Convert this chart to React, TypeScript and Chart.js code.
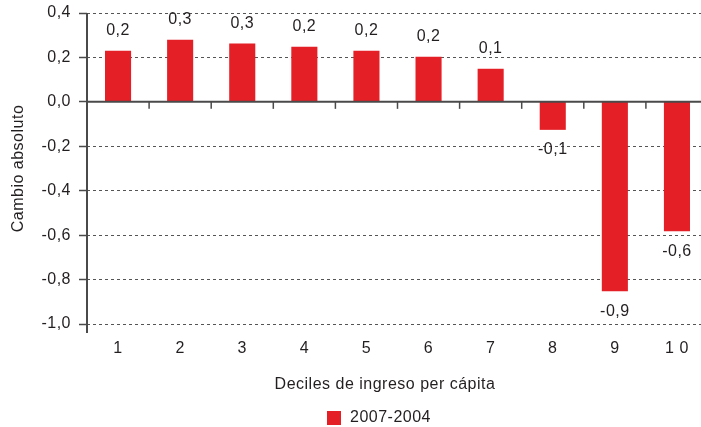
import React, { useEffect, useRef } from "react";
import { Chart, registerables } from "chart.js";

Chart.register(...registerables);

const categories = ["1", "2", "3", "4", "5", "6", "7", "8", "9", "1 0"];
const values = [0.23, 0.28, 0.263, 0.248, 0.23, 0.203, 0.149, -0.126, -0.853, -0.582];
const seriesLabel = "2007-2004";
const yMin = -1.0;
const yMax = 0.4;
const yStep = 0.2;
const yTitle = "Cambio absoluto";
const xTitle = "Deciles de ingreso per cápita";

const FONT = '"Liberation Sans", Arial, Helvetica, sans-serif';
const FS = 16;
const SPACING = "0.5px";
const RED = "#E41F26";
const INK = "#231F20";
const AXIS = "#4a4a4a";
const GRID = "#555555";

const fmt = (v: number) =>
  Math.abs(v) < 1e-9 ? "0,0" : v.toFixed(1).replace(".", ",");

const decor = {
  id: "decor",
  beforeUpdate(chart: any) {
    chart.ctx.letterSpacing = SPACING;
  },
  beforeDraw(chart: any) {
    chart.ctx.letterSpacing = SPACING;
  },
  afterDatasetsDraw(chart: any) {
    const { ctx, chartArea, scales } = chart;
    const x = scales.x;
    const y = scales.y;
    const y0 = y.getPixelForValue(0);
    ctx.save();
    ctx.setLineDash([]);
    ctx.strokeStyle = AXIS;
    // zero line
    ctx.lineWidth = 2;
    ctx.beginPath();
    ctx.moveTo(chartArea.left, y0);
    ctx.lineTo(chartArea.right, y0);
    ctx.stroke();
    // category boundary ticks
    ctx.lineWidth = 1.5;
    for (let i = 1; i < categories.length; i++) {
      const bx = (x.getPixelForValue(i - 1) + x.getPixelForValue(i)) / 2;
      ctx.beginPath();
      ctx.moveTo(bx, y0);
      ctx.lineTo(bx, y0 + 7);
      ctx.stroke();
    }
    // y axis line (extends below plot)
    ctx.lineWidth = 2;
    ctx.beginPath();
    ctx.moveTo(chartArea.left, chartArea.top);
    ctx.lineTo(chartArea.left, chartArea.bottom + 9);
    ctx.stroke();
    // value labels
    ctx.font = `${FS}px ${FONT}`;
    ctx.fillStyle = INK;
    ctx.textAlign = "center";
    ctx.textBaseline = "middle";
    const meta = chart.getDatasetMeta(0);
    meta.data.forEach((el: any, i: number) => {
      const v = values[i];
      const ly = v >= 0 ? el.y - 20 : el.y + 20;
      ctx.fillText(fmt(v), el.x, ly);
    });
    ctx.restore();
  },
  afterDraw(chart: any) {
    const { ctx } = chart;
    ctx.save();
    ctx.font = `${FS}px ${FONT}`;
    ctx.fillStyle = INK;
    ctx.textBaseline = "middle";
    // x axis title
    ctx.textAlign = "center";
    ctx.fillText(xTitle, 385, 385);
    // legend
    ctx.fillStyle = RED;
    ctx.fillRect(327, 411, 14, 14);
    ctx.fillStyle = INK;
    ctx.textAlign = "left";
    ctx.fillText(seriesLabel, 350, 418);
    ctx.restore();
  },
};

export default function App() {
  const ref = useRef<HTMLCanvasElement | null>(null);
  useEffect(() => {
    if (!ref.current) return;
    const chart = new Chart(ref.current, {
      type: "bar",
      data: {
        labels: categories,
        datasets: [
          {
            label: seriesLabel,
            data: values,
            backgroundColor: RED,
            borderWidth: 0,
            barPercentage: 0.42,
            categoryPercentage: 1,
          },
        ],
      },
      options: {
        responsive: false,
        animation: false,
        devicePixelRatio: 1,
        layout: { padding: { top: 13, right: 0, bottom: 33, left: 0 } },
        plugins: {
          legend: { display: false },
          tooltip: { enabled: false },
        },
        scales: {
          x: {
            grid: { display: false, drawTicks: false },
            border: { display: false },
            ticks: {
              font: { family: FONT, size: FS },
              color: INK,
              padding: 15,
              maxRotation: 0,
              autoSkip: false,
            },
            afterFit: (s: any) => {
              s.height = 70;
            },
          },
          y: {
            min: yMin,
            max: yMax,
            grid: {
              color: GRID,
              lineWidth: 1,
              drawTicks: true,
              tickLength: 8,
              tickColor: AXIS,
              tickWidth: 1.5,
              tickBorderDash: [],
            },
            border: { display: false, dash: [3, 3] },
            ticks: {
              stepSize: yStep,
              callback: (v: any) => fmt(Number(v)),
              font: { family: FONT, size: FS },
              color: INK,
              padding: 8,
            },
            title: {
              display: true,
              text: yTitle,
              font: { family: FONT, size: FS },
              color: INK,
              padding: { top: 9, bottom: 0 },
            },
            afterFit: (s: any) => {
              s.width = 87;
              s.paddingTop = 0;
              s.paddingBottom = 0;
            },
          },
        },
      },
      plugins: [decor],
    });
    return () => chart.destroy();
  }, []);
  return (
    <div
      style={{
        position: "fixed",
        left: 0,
        top: 0,
        width: 701,
        height: 427,
        overflow: "hidden",
        background: "#fff",
      }}
    >
      <canvas ref={ref} width={708} height={427} style={{ width: 708, height: 427 }} />
    </div>
  );
}
